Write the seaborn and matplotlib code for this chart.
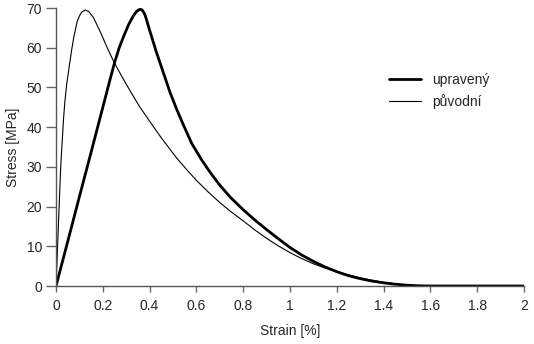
import numpy as np
import pandas as pd
import matplotlib
matplotlib.use("Agg")
import matplotlib.pyplot as plt
import seaborn as sns

# Stress-strain curves: modified ("upravený") and original ("původní") material
strain_upraveny = [0.0, 0.05, 0.10, 0.15, 0.20, 0.23, 0.25, 0.27, 0.29, 0.31,
                   0.33, 0.345, 0.359, 0.368, 0.376, 0.383, 0.39, 0.40, 0.43, 0.46,
                   0.487, 0.515, 0.544, 0.58, 0.623, 0.66, 0.70, 0.744, 0.80, 0.85,
                   0.90, 0.95, 1.00, 1.05, 1.10, 1.15, 1.20, 1.25, 1.30, 1.35,
                   1.40, 1.45, 1.50, 1.55, 1.60, 1.80, 2.00]
stress_upraveny = [0.0, 11.2, 22.5, 33.7, 45.0, 51.8, 56.2, 60.0, 63.0, 65.8,
                   68.0, 69.2, 69.7, 69.5, 68.8, 67.8, 66.4, 64.4, 58.7, 53.5,
                   48.8, 44.6, 40.6, 35.9, 31.7, 28.5, 25.4, 22.4, 19.2, 16.6,
                   14.2, 11.9, 9.7, 7.8, 6.2, 4.8, 3.6, 2.6, 1.85, 1.25,
                   0.8, 0.45, 0.2, 0.05, 0.0, 0.0, 0.0]

strain_puvodni = [0.0, 0.01, 0.02, 0.026, 0.032, 0.038, 0.045, 0.057, 0.067, 0.077,
                  0.09, 0.10, 0.11, 0.125, 0.14, 0.16, 0.19, 0.215, 0.245, 0.28,
                  0.32, 0.359, 0.40, 0.45, 0.516, 0.56, 0.60, 0.65, 0.70, 0.75,
                  0.80, 0.85, 0.90, 0.95, 1.00, 1.05, 1.10, 1.15, 1.20, 1.25,
                  1.30, 1.35, 1.40, 1.45, 1.50, 1.55, 1.60, 1.80, 2.00]
stress_puvodni = [0.0, 15.0, 30.0, 36.0, 42.0, 46.5, 50.5, 55.5, 59.5, 63.0,
                  66.5, 68.0, 69.0, 69.5, 69.1, 67.6, 63.9, 60.5, 56.7, 52.9,
                  48.8, 45.0, 41.5, 37.3, 32.2, 29.2, 26.6, 23.7, 21.0, 18.6,
                  16.4, 14.1, 12.0, 10.1, 8.4, 6.9, 5.6, 4.5, 3.6, 2.8,
                  2.05, 1.45, 0.95, 0.55, 0.25, 0.07, 0.0, 0.0, 0.0]

labels = ["upravený", "původní"]
x_ticks = [0, 0.2, 0.4, 0.6, 0.8, 1, 1.2, 1.4, 1.6, 1.8, 2]
x_tick_labels = ["0", "0.2", "0.4", "0.6", "0.8", "1", "1.2", "1.4", "1.6", "1.8", "2"]
y_ticks = [0, 10, 20, 30, 40, 50, 60, 70]

sns.set_style("ticks")
plt.rcParams["font.family"] = ["Liberation Sans", "DejaVu Sans"]
plt.rcParams["font.size"] = 10

df = pd.concat([
    pd.DataFrame({"Strain": strain_upraveny, "Stress": stress_upraveny, "series": labels[0]}),
    pd.DataFrame({"Strain": strain_puvodni, "Stress": stress_puvodni, "series": labels[1]}),
], ignore_index=True)

fig = plt.figure(figsize=(5.34, 3.44), dpi=100)
ax = fig.add_axes([0.1049, 0.1686, 0.8764, 0.8081])

sns.lineplot(data=df, x="Strain", y="Stress", hue="series", size="series",
             sizes={labels[0]: 2.0, labels[1]: 0.8},
             palette={labels[0]: "black", labels[1]: "black"},
             sort=False, estimator=None, ax=ax)
for line in ax.get_lines():
    line.set_solid_joinstyle("round")

ax.set_xlim(0, 2)
ax.set_ylim(0, 70)
ax.set_xticks(x_ticks)
ax.set_xticklabels(x_tick_labels)
ax.set_yticks(y_ticks)
ax.set_xlabel("Strain [%]", fontsize=10, labelpad=8)
ax.set_ylabel("Stress [MPa]", fontsize=10, labelpad=5)

for s in ["top", "right"]:
    ax.spines[s].set_visible(False)
for s in ["left", "bottom"]:
    ax.spines[s].set_color("#555555")
    ax.spines[s].set_linewidth(1.0)
ax.tick_params(axis="y", direction="out", length=7, width=1.0, color="#666666",
               labelsize=10, pad=3)
ax.tick_params(axis="x", direction="out", length=4, width=1.0, color="#666666",
               labelsize=10, pad=5)

handles, lbls = ax.get_legend_handles_labels()
ax.legend(handles, lbls, loc="upper left", bbox_to_anchor=(0.7, 0.785),
          frameon=False, fontsize=10, handlelength=2.3, handletextpad=0.8,
          labelspacing=0.45, borderaxespad=0)

fig.savefig("out.png", dpi=100)
